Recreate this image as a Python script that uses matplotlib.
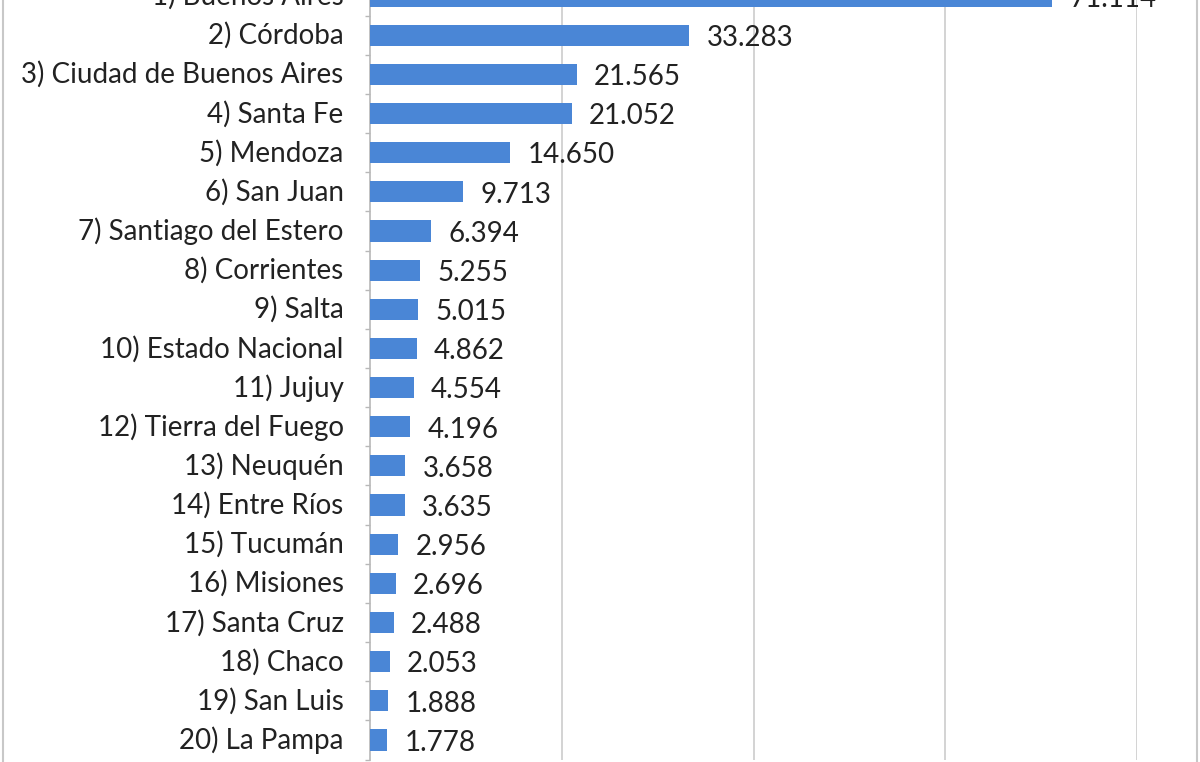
import numpy as np
import matplotlib
matplotlib.use('Agg')
import matplotlib.pyplot as plt
import matplotlib.transforms as mtransforms
from matplotlib.patches import Rectangle

provincias = ["1) Buenos Aires", "2) Córdoba", "3) Ciudad de Buenos Aires", "4) Santa Fe",
              "5) Mendoza", "6) San Juan", "7) Santiago del Estero", "8) Corrientes",
              "9) Salta", "10) Estado Nacional", "11) Jujuy", "12) Tierra del Fuego",
              "13) Neuquén", "14) Entre Ríos", "15) Tucumán", "16) Misiones",
              "17) Santa Cruz", "18) Chaco", "19) San Luis", "20) La Pampa"]
valores = [71114, 33283, 21565, 21052, 14650, 9713, 6394, 5255, 5015, 4862,
           4554, 4196, 3658, 3635, 2956, 2696, 2488, 2053, 1888, 1778]
grid_ticks = [20000, 40000, 60000, 80000]

plt.rcParams['font.family'] = ['Lato', 'DejaVu Sans']

fig = plt.figure(figsize=(12, 7.62), dpi=100)
# axes area runs past the top of the picture (chart is cropped there)
ax = fig.add_axes([370 / 1200, 2.4 / 762, 767 / 1200, 783.2 / 762])

y = np.arange(len(provincias))
ax.barh(y, valores, height=0.54, color='#4a86d6', zorder=3)
for yi, v in zip(y, valores):
    ax.annotate(f"{v:,}".replace(",", "."), (v, yi), xytext=(12.5, -2),
                textcoords='offset points', va='center', ha='left',
                fontsize=20, color='#222222')

ax.set_ylim(len(provincias) - 0.5, -0.5)
ax.set_xlim(0, 80000)
ax.set_xticks(grid_ticks)
ax.tick_params(axis='x', length=0, labelbottom=False)
ax.grid(axis='x', color='#d0d0d0', linewidth=1.3, zorder=0)

ax.set_yticks(y)
ax.set_yticklabels(provincias, fontsize=20, color='#222222')
ax.set_yticks(np.arange(-0.5, len(provincias), 1), minor=True)
ax.tick_params(axis='y', which='major', length=0, pad=19)
ax.tick_params(axis='y', which='minor', length=3.6, color='#b8b8b8', width=1)
# nudge category labels up a little
shift = mtransforms.ScaledTranslation(0, 1.5 / 72, fig.dpi_scale_trans)
for lbl in ax.get_yticklabels():
    lbl.set_transform(lbl.get_transform() + shift)

for s in ['top', 'right', 'bottom']:
    ax.spines[s].set_visible(False)
ax.spines['left'].set_color('#b8b8b8')
ax.spines['left'].set_linewidth(1.2)

# outer chart border
fig.patches.append(Rectangle((3 / 1200, -0.01), 1194 / 1200, 1.02, transform=fig.transFigure,
                             fill=False, edgecolor='#c8c8c8', linewidth=1.5))

fig.savefig('out.png', dpi=100)
